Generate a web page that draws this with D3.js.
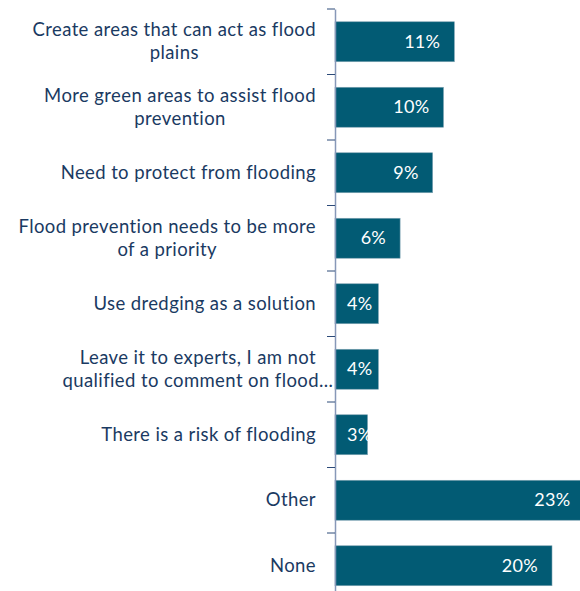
<!DOCTYPE html>
<html>
<head>
<meta charset="utf-8">
<script src="https://cdn.jsdelivr.net/npm/d3@7"></script>
<style>
  body { margin: 0; background: #fff; }
  svg { display: block; font-family: Lato, "Open Sans", sans-serif; }
</style>
</head>
<body>
<svg id="chart"></svg>
<script>

var width = 580;
var height = 591;

// categories (line breaks as in the original labels)
var categories = [
  "Create areas that can act as flood\nplains",
  "More green areas to assist flood\nprevention",
  "Need to protect from flooding",
  "Flood prevention needs to be more\nof a priority",
  "Use dredging as a solution",
  "Leave it to experts, I am not\nqualified to comment on flood\u2026",
  "There is a risk of flooding",
  "Other",
  "None"
];
var values = [11, 10, 9, 6, 4, 4, 3, 23, 20];
var valueLabels = ["11%", "10%", "9%", "6%", "4%", "4%", "3%", "23%", "20%"];

var svg = d3.select("#chart")
  .attr("width", width)
  .attr("height", height);

var x = d3.scaleLinear()
  .domain([0, 20])
  .range([335, 552]);

var y = d3.scaleBand()
  .domain(d3.range(categories.length))
  .range([9, 598.5])
  .paddingInner(0.39)
  .paddingOuter(0.195);

var gap = (y.step() - y.bandwidth()) / 2;

var bars = svg.append("g");

bars.selectAll("rect")
  .data(values)
  .enter().append("rect")
  .attr("x", x(0))
  .attr("y", function(d, i) { return y(i); })
  .attr("width", function(d) { return x(d) - x(0); })
  .attr("height", y.bandwidth())
  .attr("fill", "#025b74")
  .attr("stroke", "#7fa3b3")
  .attr("stroke-width", 0.6);

// value labels: inside end, but never closer than 12px to the axis
var vals = bars.selectAll("text")
  .data(values)
  .enter().append("text")
  .attr("y", function(d, i) { return y(i) + y.bandwidth() / 2 + 6; })
  .attr("text-anchor", "end")
  .attr("fill", "#fff")
  .attr("font-size", 18)
  .attr("letter-spacing", 0.3)
  .text(function(d, i) { return valueLabels[i]; });

vals.attr("x", function(d) {
  var w = this.getComputedTextLength();
  return Math.max(x(d) - 14, x(0) + 12 + w);
});

// axis line
var axis = d3.axisLeft(y).tickSize(0).tickFormat("");
var axisG = svg.append("g")
  .attr("transform", "translate(" + x(0) + ",0)")
  .call(axis);
axisG.select(".domain")
  .attr("stroke", "#8798b8")
  .attr("stroke-width", 1.5);

// ticks between categories
var boundaries = d3.range(categories.length + 1).map(function(i) {
  return i < categories.length ? y(i) - gap : y(i - 1) + y.bandwidth() + gap;
});
svg.append("g").selectAll("line")
  .data(boundaries)
  .enter().append("line")
  .attr("x1", x(0) - 8)
  .attr("x2", x(0))
  .attr("y1", function(d) { return d; })
  .attr("y2", function(d) { return d; })
  .attr("stroke", "#2c4a78")
  .attr("stroke-width", 1);

// category labels
var labels = svg.append("g").selectAll("text")
  .data(categories)
  .enter().append("text")
  .attr("text-anchor", "middle")
  .attr("fill", "#1a3a62")
  .attr("font-size", 18.5)
  .attr("letter-spacing", 0.4);

labels.each(function(d, i) {
  var lines = d.split("\n");
  var t = d3.select(this);
  var cy = y(i) + y.bandwidth() / 2;
  var lh = 23;
  var top = cy - (lines.length - 1) * lh / 2 + 6;
  lines.forEach(function(line, k) {
    t.append("tspan")
      .attr("y", top + k * lh)
      .text(line);
  });
  // right-align the block, centre lines inside it;
  // a truncated line (ending in an ellipsis) is allowed to overflow
  var widths = [];
  t.selectAll("tspan").each(function(_, k) {
    if (!/\u2026$/.test(lines[k])) widths.push(this.getComputedTextLength());
  });
  var maxW = d3.max(widths);
  t.selectAll("tspan").attr("x", 316 - maxW / 2);
});

</script>
</body>
</html>
